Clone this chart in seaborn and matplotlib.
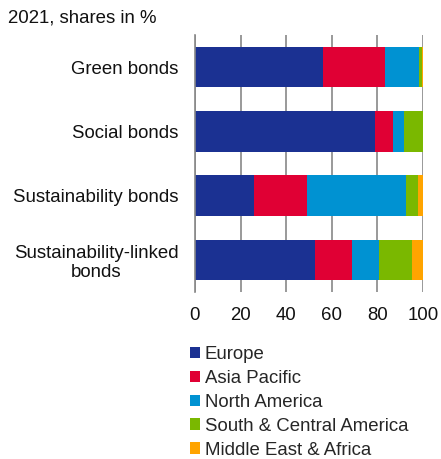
import matplotlib
matplotlib.use("Agg")
import matplotlib.pyplot as plt
import seaborn as sns
import numpy as np
import pandas as pd
from matplotlib.patches import Patch

categories = ["Green bonds", "Social bonds", "Sustainability bonds", "Sustainability-linked\nbonds"]
europe = [56.1, 78.8, 25.7, 52.6]
asia_pacific = [27.1, 8.2, 23.3, 16.2]
north_america = [15.1, 4.7, 43.4, 11.9]
south_central_america = [1.1, 8.3, 5.3, 14.5]
middle_east_africa = [0.6, 0.0, 2.3, 4.8]
series_names = ["Europe", "Asia Pacific", "North America", "South & Central America", "Middle East & Africa"]
colors = ["#1B3192", "#E00034", "#0092D2", "#7AB800", "#FFA400"]
x_ticks = [0, 20, 40, 60, 80, 100]
title = "2021, shares in %"

sns.set_theme(style="white")
plt.rcParams["font.family"] = ["Liberation Sans", "DejaVu Sans"]
FS = 13.4

df = pd.DataFrame({"category": categories})
series = [europe, asia_pacific, north_america, south_central_america, middle_east_africa]
cum = np.cumsum(np.array(series), axis=0)

fig = plt.figure(figsize=(4.41, 4.59), dpi=100)
ax = fig.add_axes([195 / 441, 1 - 292 / 459, 228 / 441, 257 / 459])

for i in range(len(series) - 1, -1, -1):
    d = df.copy()
    d["value"] = cum[i]
    sns.barplot(data=d, x="value", y="category", orient="h", color=colors[i],
                width=0.63, ax=ax, saturation=1, edgecolor="none", linewidth=0)

ax.set_xlim(0, 100)
ax.set_ylim(3.5, -0.5)
ax.set_xticks(x_ticks)
ax.set_xticklabels([str(t) for t in x_ticks], fontsize=FS)
ax.set_yticklabels(categories, fontsize=FS, linespacing=1.2)
ax.set_xlabel("")
ax.set_ylabel("")
ax.tick_params(axis="x", length=0, pad=11, colors="#111111")
ax.tick_params(axis="y", length=0, pad=12, colors="#111111")
for lab in ax.get_yticklabels():
    lab.set_horizontalalignment("right")
    lab.set_multialignment("center")
ax.grid(axis="x", color="#888888", linewidth=1.2)
ax.set_axisbelow(True)
for s in ["top", "right", "bottom"]:
    ax.spines[s].set_visible(False)
ax.spines["left"].set_color("#888888")
ax.spines["left"].set_linewidth(1.2)

fig.text(8 / 441, 1 - 18 / 459, title, fontsize=FS, va="center", ha="left", color="#111111")

handles = [Patch(facecolor=c, edgecolor="none", label=n) for c, n in zip(colors, series_names)]
fig.legend(handles=handles, loc="upper left", bbox_to_anchor=(190 / 441, 1 - 346 / 459),
           frameon=False, fontsize=FS, handlelength=0.55, handleheight=0.55,
           handletextpad=0.25, labelspacing=0.37, borderaxespad=0, borderpad=0)

fig.savefig("out.png", dpi=100)
